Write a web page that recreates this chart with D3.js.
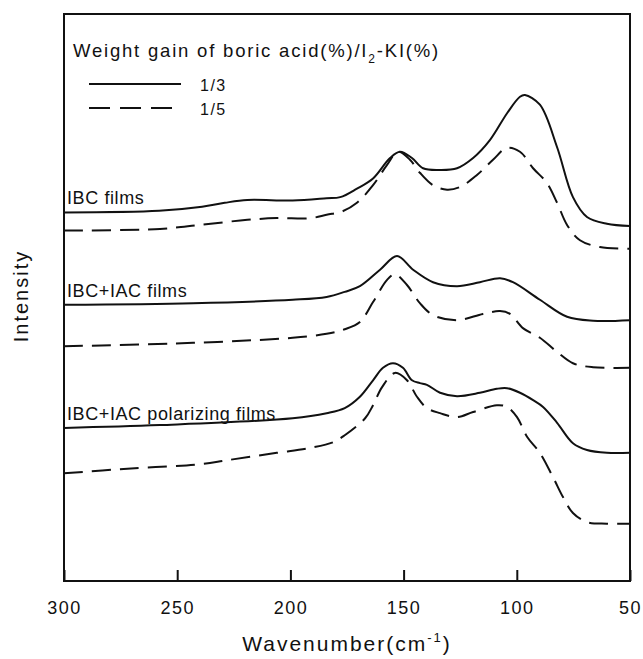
<!DOCTYPE html>
<html>
<head>
<meta charset="utf-8">
<script src="https://cdn.jsdelivr.net/npm/d3@7"></script>
<style>
  body { margin: 0; background: #fff; }
  svg text { font-family: "Liberation Sans", Arial, sans-serif; fill: #111; }
</style>
</head>
<body>
<svg id="chart" width="643" height="659"></svg>
<script>
// wavenumber (cm-1), intensity (a.u., offset per sample)
const wavenumberTicks = [300, 250, 200, 150, 100, 50];
const ratioNames = ["1/3", "1/5"];
const sampleNames = ["IBC films", "IBC+IAC films", "IBC+IAC polarizing films"];

const ibc13 = [[300,65.0],[258,65.3],[239,66.0],[229,66.7],[219,67.2],[199,67.1],[184,67.5],[178,67.7],[170.6,69.2],[163.5,71.0],[156,74.6],[151.6,75.7],[146.3,74.6],[141.4,72.8],[134,72.5],[126.4,72.8],[119.3,74.6],[111.8,77.8],[104.3,82.5],[98.6,85.4],[96.4,85.7],[89.8,84.0],[82.2,76.5],[75.2,67.7],[69,64.2],[60.2,63.0],[50,62.6]];
const ibc15 = [[300,61.8],[257.6,62.1],[240,62.8],[219,63.7],[206,64.0],[191,64.0],[184,64.6],[177,65.2],[170.6,66.7],[163.5,69.8],[157.3,73.4],[152.5,75.7],[147.2,74.3],[142.8,72.0],[137,69.8],[130.8,69.0],[125,69.5],[117.6,71.6],[110.5,74.3],[104.3,76.4],[98.6,75.7],[92.8,72.8],[86.7,70.2],[82.2,66.7],[77.8,62.8],[72.1,60.1],[63.3,58.9],[50,58.6]];
const iac13 = [[300,48.7],[243,49.0],[199,49.6],[184,50.1],[176,51.0],[169.3,52.0],[160.4,54.9],[152.9,57.3],[145.8,54.9],[137,52.7],[126.4,52.0],[116.3,52.7],[107.4,53.4],[101.7,52.7],[89.8,49.6],[77.8,46.6],[66.3,45.9],[50,46.0]];
const iac15 = [[300,41.4],[243,42.0],[199,42.9],[184,43.6],[176,44.4],[169.3,45.7],[163.5,49.2],[157.3,53.1],[153.8,54.1],[148.5,52.2],[142.8,49.0],[137,46.9],[126.4,46.0],[115,47.1],[107.4,47.6],[103,47.1],[97.3,44.6],[89.8,42.9],[82.2,40.4],[75.2,38.4],[66.3,37.7],[50,37.6]];
const pol13 = [[300,27.0],[257.6,27.5],[199,28.7],[184,29.6],[176,30.5],[169.3,32.5],[163.5,35.4],[159.1,37.6],[154.7,38.4],[150.3,37.6],[146.3,35.4],[142.8,34.9],[139.7,34.6],[133.9,33.2],[126.4,32.6],[116.3,33.2],[108.8,33.9],[104.3,34.0],[98.6,33.2],[92.8,31.9],[88.4,30.7],[82.2,27.9],[75.2,24.3],[69,23.1],[60.2,22.6],[50,22.6]];
const pol15 = [[300,19.0],[272,19.8],[240,20.6],[228,21.3],[206,22.6],[191,23.5],[181,24.5],[176,25.7],[167,28.7],[163.5,31.0],[159.5,34.2],[153.8,36.7],[148.5,35.4],[144.1,32.5],[139.7,30.5],[133.9,29.6],[126.4,28.9],[119.3,29.8],[108.8,31.0],[104.3,30.7],[99.9,28.9],[95.4,25.4],[89.8,22.6],[84,18.3],[79.6,14.8],[75.2,12.0],[69,10.4],[60.2,10.1],[50,10.1]];

const samples = [[ibc13, ibc15], [iac13, iac15], [pol13, pol15]];

const svg = d3.select("#chart");
const plotLeft = 64, plotRight = 630, plotTop = 14, plotBottom = 581;
const dash = "19,9";

const x = d3.scaleLinear().domain([300, 50]).range([plotLeft, plotRight]);
const y = d3.scaleLinear().domain([0, 100]).range([plotBottom, plotTop]);

const line = d3.line()
  .x(d => x(d[0]))
  .y(d => y(d[1]))
  .curve(d3.curveCatmullRom.alpha(0.5));

// curves
samples.forEach((pair, i) => {
  pair.forEach((s, j) => {
    svg.append("path")
      .datum(s)
      .attr("d", line)
      .attr("fill", "none")
      .attr("stroke", "#111")
      .attr("stroke-width", 2)
      .attr("stroke-dasharray", j === 1 ? dash : null);
  });
  svg.append("text")
    .attr("x", plotLeft + 3)
    .attr("y", y(pair[0][0][1]) - 8)
    .attr("font-size", 18)
    .style("letter-spacing", "0.6px")
    .text(sampleNames[i]);
});

// bottom axis, ticks pointing in
const xAxis = svg.append("g")
  .attr("transform", `translate(0,${plotBottom})`)
  .call(d3.axisBottom(x).tickValues(wavenumberTicks).tickSizeInner(-11).tickSizeOuter(0).tickPadding(20));
xAxis.select(".domain").remove();
xAxis.selectAll(".tick line").attr("stroke", "#111").attr("stroke-width", 2);
xAxis.selectAll(".tick text")
  .attr("font-size", 18)
  .attr("fill", "#111")
  .style("letter-spacing", "1.5px")
  .style("font-family", '"Liberation Sans", Arial, sans-serif');

// frame
svg.append("rect")
  .attr("x", plotLeft).attr("y", plotTop)
  .attr("width", plotRight - plotLeft).attr("height", plotBottom - plotTop)
  .attr("fill", "none").attr("stroke", "#111").attr("stroke-width", 2);

// legend
const title = svg.append("text")
  .attr("x", 73).attr("y", 57)
  .attr("font-size", 18.5)
  .style("letter-spacing", "1.8px");
title.append("tspan").text("Weight gain of boric acid(%)/I");
title.append("tspan").attr("dy", 6).attr("font-size", 12).text("2");
title.append("tspan").attr("dy", -6).text("-KI(%)");

ratioNames.forEach((name, j) => {
  const ly = 84 + j * 24;
  svg.append("line")
    .attr("x1", 89).attr("x2", j === 0 ? 181 : 172)
    .attr("y1", ly).attr("y2", ly)
    .attr("stroke", "#111").attr("stroke-width", 2)
    .attr("stroke-dasharray", j === 1 ? "21,10" : null);
  svg.append("text")
    .attr("x", 200).attr("y", ly + 7)
    .attr("font-size", 16)
    .style("letter-spacing", "1.5px")
    .text(name);
});

// axis titles
const xt = svg.append("text")
  .attr("x", (plotLeft + plotRight) / 2).attr("y", 651)
  .attr("text-anchor", "middle")
  .attr("font-size", 21)
  .style("letter-spacing", "2px");
xt.append("tspan").text("Wavenumber(cm");
xt.append("tspan").attr("dy", -9).attr("font-size", 13).text("-1");
xt.append("tspan").attr("dy", 9).text(")");

svg.append("text")
  .attr("transform", "translate(28,296) rotate(-90)")
  .attr("text-anchor", "middle")
  .attr("font-size", 20)
  .style("letter-spacing", "2px")
  .text("Intensity");
</script>
</body>
</html>
